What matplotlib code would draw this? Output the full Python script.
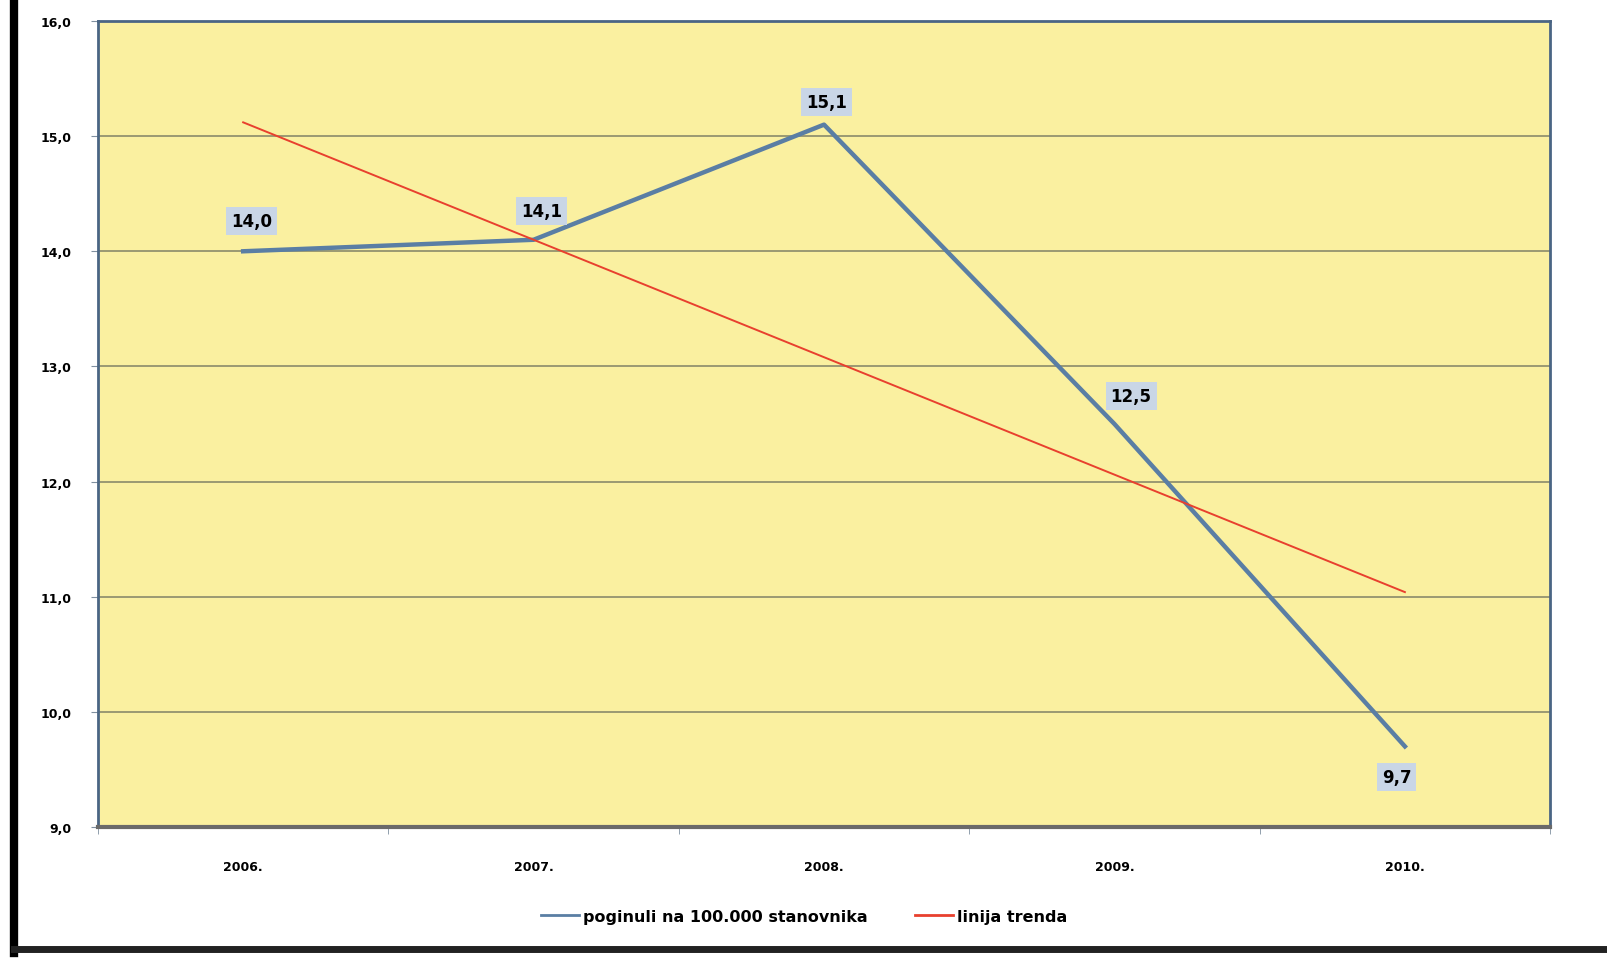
import numpy as np
import matplotlib
matplotlib.use("Agg")
import matplotlib.pyplot as plt
from matplotlib.lines import Line2D

# podaci
godine = ["2006.", "2007.", "2008.", "2009.", "2010."]
poginuli = [14.0, 14.1, 15.1, 12.5, 9.7]
y_ticks = [9, 10, 11, 12, 13, 14, 15, 16]

x = np.arange(len(godine))
k, n = np.polyfit(x, poginuli, 1)
trend = k * x + n

fig = plt.figure(figsize=(16.08, 9.78), dpi=100)
ax = fig.add_axes([0.0609, 0.1534, 0.9031, 0.8241])
ax.set_facecolor("#faf0a0")

ax.set_xlim(-0.5, 4.5)
ax.set_ylim(9, 16)
ax.set_yticks(y_ticks)
ax.set_yticklabels([f"{v:.1f}".replace(".", ",") for v in y_ticks],
                   fontsize=9, fontweight="bold")
ax.set_xticks(x)
ax.set_xticklabels(godine, fontsize=9, fontweight="bold")
ax.set_xticks(np.arange(-0.5, 4.6, 1), minor=True)
ax.tick_params(axis="x", which="major", length=0, pad=24)
ax.tick_params(axis="x", which="minor", length=5, color="#8090a0")
ax.tick_params(axis="y", length=5, color="#8090a0", pad=14)

ax.grid(axis="y", color="#8a8a6a", linewidth=1.2)
ax.set_axisbelow(True)
for s in ["left", "top", "right"]:
    ax.spines[s].set_color("#4a6584")
    ax.spines[s].set_linewidth(2)
ax.spines["bottom"].set_color("#6a6a6a")
ax.spines["bottom"].set_linewidth(3)

ax.plot(x, poginuli, color="#5a7ea4", linewidth=3.2,
        label="poginuli na 100.000 stanovnika", zorder=3)
ax.plot(x, trend, color="#e8402e", linewidth=1.4,
        label="linija trenda", zorder=4)

offsets = [(6, 22), (6, 21), (2, 16), (12, 20), (-6, -22)]
for xi, v, off in zip(x, poginuli, offsets):
    ax.annotate(f"{v:.1f}".replace(".", ","), (xi, v), xytext=off,
                textcoords="offset points", ha="center", va="center",
                fontsize=12, fontweight="bold", zorder=5,
                bbox=dict(boxstyle="square,pad=0.3", fc="#c9d6e6", ec="none"))

leg = fig.legend(loc="center", bbox_to_anchor=(0.5, 0.062), ncol=2,
                 frameon=False, prop=dict(size=11.5, weight="bold"),
                 handlelength=2.4, handletextpad=0.2, columnspacing=3)
for h in leg.get_lines():
    h.set_linewidth(2)

# okvir
fig.add_artist(Line2D([0.009, 0.009], [0.025, 1.0], color="black",
                      linewidth=6, transform=fig.transFigure))
fig.add_artist(Line2D([0.009, 1.0], [0.029, 0.029], color="#222222",
                      linewidth=5, transform=fig.transFigure))

fig.savefig("out.png", dpi=100)
